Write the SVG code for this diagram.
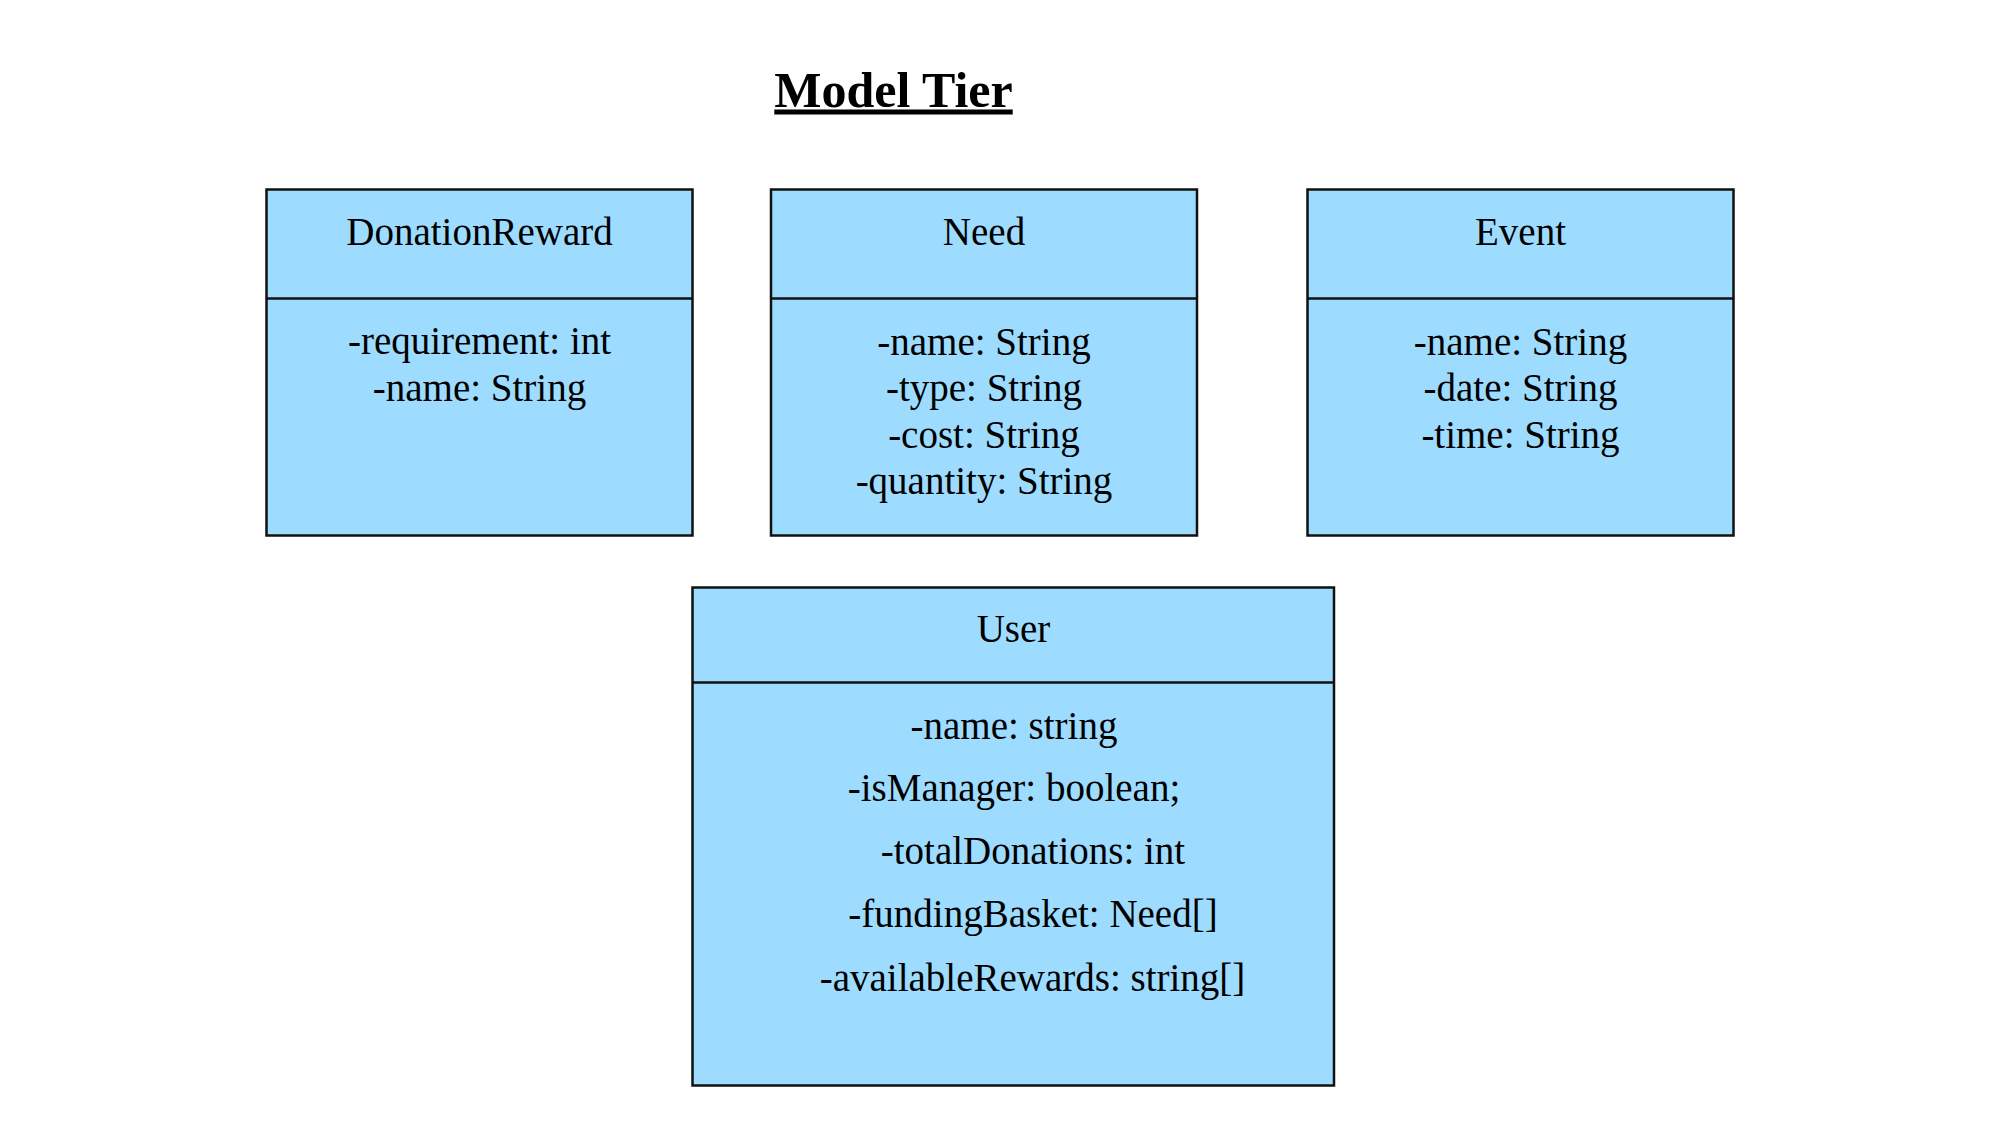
<svg xmlns="http://www.w3.org/2000/svg" width="2000" height="1125" viewBox="0 0 2000 1125">
<style>
  .box { fill: #9edcff; stroke: #111; stroke-width: 2.5; }
  .div { stroke: #111; stroke-width: 2.5; }
  .t { font-family: "Liberation Serif", "Times New Roman", serif; font-size: 39px; fill: #000; text-anchor: middle; }
  .title { font-family: "Liberation Serif", "Times New Roman", serif; font-size: 50px; font-weight: bold; fill: #000; text-anchor: middle; text-decoration: underline; }
</style>
<rect width="2000" height="1125" fill="#fff"/>
<text class="title" x="893.5" y="106.5">Model Tier</text>

<g id="connectors"></g>

<g id="DonationReward">
  <rect class="box" x="266.5" y="189.5" width="426" height="346"/>
  <line class="div" x1="266.5" y1="298.5" x2="692.5" y2="298.5"/>
  <text class="t" x="479.5" y="245">DonationReward</text>
  <text class="t" x="479.5" y="354">-requirement: int</text>
  <text class="t" x="479.5" y="401">-name: String</text>
</g>

<g id="Need">
  <rect class="box" x="771" y="189.5" width="426" height="346"/>
  <line class="div" x1="771" y1="298.5" x2="1197" y2="298.5"/>
  <text class="t" x="984" y="245">Need</text>
  <text class="t" x="984" y="354.5">-name: String</text>
  <text class="t" x="984" y="401">-type: String</text>
  <text class="t" x="984" y="447.5">-cost: String</text>
  <text class="t" x="984" y="494">-quantity: String</text>
</g>

<g id="Event">
  <rect class="box" x="1307.5" y="189.5" width="426" height="346"/>
  <line class="div" x1="1307.5" y1="298.5" x2="1733.5" y2="298.5"/>
  <text class="t" x="1520.5" y="245">Event</text>
  <text class="t" x="1520.5" y="354.5">-name: String</text>
  <text class="t" x="1520.5" y="401">-date: String</text>
  <text class="t" x="1520.5" y="447.5">-time: String</text>
</g>

<g id="User">
  <rect class="box" x="692.5" y="587.5" width="641.5" height="498"/>
  <line class="div" x1="692.5" y1="682.5" x2="1334" y2="682.5"/>
  <text class="t" x="1013.5" y="642">User</text>
  <text class="t" x="1014" y="738.5">-name: string</text>
  <text class="t" x="1014" y="800.5">-isManager: boolean;</text>
  <text class="t" x="1033" y="864">-totalDonations: int</text>
  <text class="t" x="1033" y="927">-fundingBasket: Need[]</text>
  <text class="t" x="1032.5" y="990.5">-availableRewards: string[]</text>
</g>
</svg>
